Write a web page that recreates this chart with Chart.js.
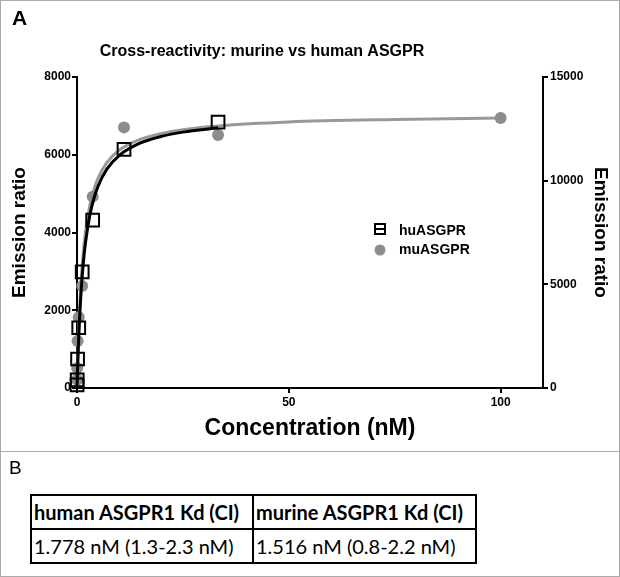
<!DOCTYPE html>
<html>
<head>
<meta charset="utf-8">
<script src="https://cdn.jsdelivr.net/npm/chart.js@4.4.0/dist/chart.umd.min.js"></script>
<style>
html, body { margin: 0; padding: 0; background: #fff; }
#page { position: relative; width: 618px; height: 575px; border: 1px solid #aaa; overflow: hidden; font-family: "Liberation Sans", Arial, sans-serif; color: #000; }
#chartBox { position: absolute; left: -1px; top: -1px; width: 620px; height: 450px; }
#divider { position: absolute; left: 0; top: 450px; width: 618px; border-top: 1px solid #aaa; }
#lblA { position: absolute; left: 11px; top: 5px; font-size: 21px; font-weight: bold; }
#lblB { position: absolute; left: 8px; top: 456px; font-size: 19px; }
#kdTable { position: absolute; left: 29px; top: 493px; border-collapse: collapse; table-layout: fixed; font-family: Lato, "Open Sans", sans-serif; font-size: 20px; }
#kdTable td { border: 2px solid #000; padding: 0 0 0 2px; height: 32px; white-space: nowrap; }
#kdTable tr:first-child td { font-weight: bold; }
</style>
</head>
<body>
<div id="page">
  <div id="chartBox"><canvas id="bindingChart"></canvas></div>
  <div id="lblA">A</div>
  <div id="divider"></div>
  <div id="lblB">B</div>
  <table id="kdTable">
    <colgroup><col style="width:222px"><col style="width:223px"></colgroup>
    <tr><td id="h0"></td><td id="h1"></td></tr>
    <tr><td id="c0"></td><td id="c1"></td></tr>
  </table>
</div>
<script>
// measured points (concentration in nM)
const huConc = [33.3, 11.1, 3.7, 1.23, 0.41, 0.137, 0.046, 0.015];
const huRatio = [6840, 6140, 4320, 2990, 1550, 746, 210, 80];
const muConc = [100, 33.3, 11.1, 3.7, 1.23, 0.41, 0.137, 0.046, 0.015];
const muRatio = [13020, 12200, 12570, 9230, 4920, 3410, 2270, 970, 400];

// fitted curves
const huFitConc = [0, 0.2, 0.5, 1, 1.5, 2, 3, 4, 5, 7, 10, 15, 20, 25, 33.3];
const huFitRatio = [0, 713, 1547, 2538, 3226, 3732, 4427, 4881, 5201, 5622, 5986, 6303, 6474, 6582, 6693];
const muFitConc = [0, 0.2, 0.5, 1, 1.5, 2, 3, 4, 5, 7, 10, 15, 20, 25, 33.3, 50, 75, 100];
const muFitRatio = [0, 1540, 3280, 5250, 6570, 7520, 8780, 9580, 10140, 10860, 11480, 12000, 12280, 12460, 12640, 12830, 12950, 13020];

const xTicksMax = 110;
const chartTitle = 'Cross-reactivity: murine vs human ASGPR';
const seriesNames = ['huASGPR', 'muASGPR'];
const tableHead = ['human ASGPR1 Kd (CI)', 'murine ASGPR1 Kd (CI)'];
const tableRow = ['1.778 nM (1.3-2.3 nM)', '1.516 nM (0.8-2.2 nM)'];

tableHead.forEach((t, i) => { document.getElementById('h' + i).textContent = t; });
tableRow.forEach((t, i) => { document.getElementById('c' + i).textContent = t; });

const FONT = '"Liberation Sans", Arial, sans-serif';
const GREY = '#8c8c8c';
const pts = (xs, ys) => xs.map((x, i) => ({ x, y: ys[i] }));

// title sits left of centre in the original, so it is drawn here with the legend
const textPlugin = {
    id: 'titleAndLegend',
    afterDraw(chart) {
        const ctx = chart.ctx;
        ctx.save();
        ctx.fillStyle = '#000';
        ctx.font = 'bold 16px ' + FONT;
        ctx.textAlign = 'center';
        ctx.textBaseline = 'middle';
        ctx.fillText(chartTitle, 262, 52);

        ctx.strokeStyle = '#000';
        ctx.lineWidth = 2;
        ctx.strokeRect(375, 224, 10, 10);
        ctx.beginPath(); ctx.moveTo(374, 229); ctx.lineTo(386, 229); ctx.stroke();
        ctx.fillStyle = GREY;
        ctx.beginPath(); ctx.arc(380, 250, 5.5, 0, Math.PI * 2); ctx.fill();
        ctx.fillStyle = '#000';
        ctx.font = 'bold 14px ' + FONT;
        ctx.textAlign = 'left';
        ctx.fillText(seriesNames[0], 399, 231);
        ctx.fillText(seriesNames[1], 399, 250);
        ctx.restore();
    }
};

const axisGrid = { drawOnChartArea: false, drawTicks: true, tickLength: 5, color: '#000', lineWidth: 2 };
const axisBorder = { display: true, color: '#000', width: 2 };
const tickFont = { family: FONT, size: 12, weight: 'bold' };
const plain = (v) => String(v);

new Chart(document.getElementById('bindingChart'), {
    type: 'scatter',
    data: {
        datasets: [
            { label: seriesNames[0], data: pts(huConc, huRatio), yAxisID: 'y', order: 0,
              pointStyle: 'rect', pointRadius: 9, borderWidth: 2, borderColor: '#000', backgroundColor: 'rgba(0,0,0,0)', clip: false },
            { label: 'hu fit', data: pts(huFitConc, huFitRatio), yAxisID: 'y', order: 1, showLine: true,
              pointRadius: 0, borderWidth: 3, borderColor: '#000', cubicInterpolationMode: 'monotone', fill: false, clip: false },
            { label: seriesNames[1], data: pts(muConc, muRatio), yAxisID: 'y2', order: 2,
              pointStyle: 'circle', pointRadius: 6, borderWidth: 0, backgroundColor: GREY, clip: false },
            { label: 'mu fit', data: pts(muFitConc, muFitRatio), yAxisID: 'y2', order: 3, showLine: true,
              pointRadius: 0, borderWidth: 3, borderColor: '#999', cubicInterpolationMode: 'monotone', fill: false, clip: false },
        ]
    },
    options: {
        responsive: true,
        maintainAspectRatio: false,
        animation: false,
        layout: { padding: { top: 77 } },
        plugins: {
            legend: { display: false },
            tooltip: { enabled: false },
            title: { display: false },
        },
        scales: {
            x: {
                type: 'linear', min: 0, max: xTicksMax,
                afterFit: (s) => { s.height = 62; },
                grid: axisGrid, border: axisBorder,
                ticks: { stepSize: 50, includeBounds: false, color: '#000', font: tickFont, padding: 2, maxRotation: 0, callback: plain },
                title: { display: true, text: 'Concentration (nM)', color: '#000', font: { family: FONT, size: 23, weight: 'bold' }, padding: { top: 0, bottom: 8 } },
            },
            y: {
                position: 'left', min: 0, max: 8000,
                afterFit: (s) => { s.width = 77; },
                grid: axisGrid, border: axisBorder,
                ticks: { stepSize: 2000, color: '#000', font: tickFont, padding: 1, callback: plain },
                title: { display: true, text: 'Emission ratio', color: '#000', font: { family: FONT, size: 19, weight: 'bold' }, padding: { top: 8.6, bottom: 0 } },
            },
            y2: {
                position: 'right', min: 0, max: 15000,
                afterFit: (s) => { s.width = 77; },
                grid: axisGrid, border: axisBorder,
                ticks: { stepSize: 5000, color: '#000', font: tickFont, padding: 2, callback: plain },
                title: { display: true, text: 'Emission ratio', color: '#000', font: { family: FONT, size: 19, weight: 'bold' }, padding: { top: 8.6, bottom: 0 } },
            },
        },
    },
    plugins: [textPlugin],
});
</script>
</body>
</html>
